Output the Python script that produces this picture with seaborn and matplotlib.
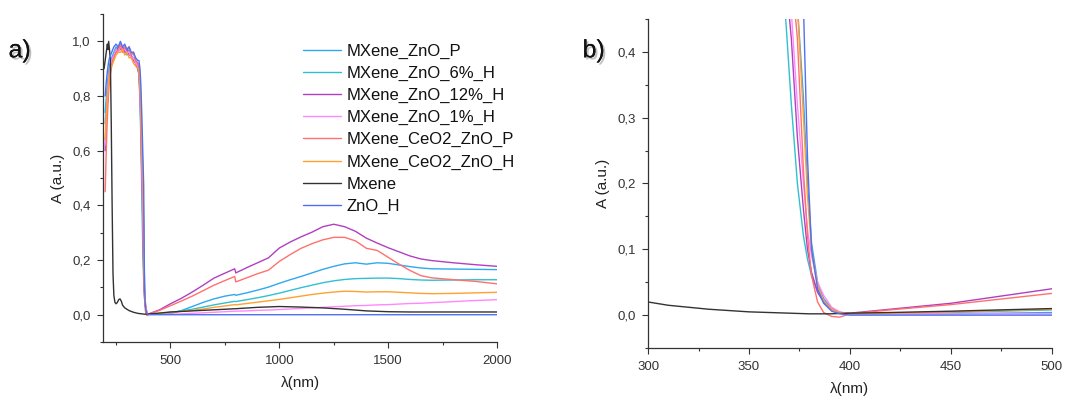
import numpy as np
import pandas as pd
import matplotlib
matplotlib.use("Agg")
import matplotlib.pyplot as plt
import matplotlib.patheffects as pe
from matplotlib.ticker import MultipleLocator, FuncFormatter
import seaborn as sns

# sample names and colours (legend order)
samples = ["MXene_ZnO_P", "MXene_ZnO_6%_H", "MXene_ZnO_12%_H", "MXene_ZnO_1%_H",
           "MXene_CeO2_ZnO_P", "MXene_CeO2_ZnO_H", "Mxene", "ZnO_H"]
colors = ["#2FA8F0", "#30C0D0", "#B040C0", "#FF88FF",
          "#FF7070", "#FFA030", "#333333", "#5070F0"]

# wavelength grid for the ZnO based samples: UV plateau, band edge, visible/NIR
wl_top = [200, 205, 210, 215, 220, 230, 240, 250, 260, 270, 280, 290, 300, 310, 320, 330, 340, 350]
wl_edge = [355, 360, 364, 368, 371, 374, 377, 379, 381, 384, 387, 391, 395, 400]
wl_nir = [420, 450, 500, 550, 600, 650, 700, 750, 795, 800, 850, 900, 950, 1000, 1050, 1100,
          1150, 1200, 1250, 1300, 1350, 1400, 1450, 1500, 1550, 1600, 1650, 1700, 1800, 1900, 2000]
wl_semi = wl_top + wl_edge + wl_nir

A_zno_p = [0.74, 0.79, 0.84, 0.88, 0.91, 0.94, 0.96, 0.98, 0.97, 0.99, 0.97, 0.98, 0.96, 0.97, 0.95, 0.96, 0.93, 0.92,
           0.90, 0.86, 0.78, 0.66, 0.58, 0.47, 0.33, 0.20, 0.11, 0.05, 0.025, 0.01, 0.004, 0.002,
           0.002, 0.002, 0.004, 0.015, 0.030, 0.045, 0.058, 0.068, 0.074, 0.071, 0.080, 0.090, 0.101, 0.115, 0.128, 0.140,
           0.153, 0.166, 0.177, 0.186, 0.190, 0.185, 0.190, 0.188, 0.182, 0.176, 0.171, 0.168, 0.167, 0.166, 0.165]
A_zno_6 = [0.70, 0.76, 0.82, 0.86, 0.90, 0.93, 0.95, 0.97, 0.96, 0.98, 0.96, 0.97, 0.95, 0.96, 0.94, 0.94, 0.92, 0.90,
           0.88, 0.78, 0.64, 0.46, 0.32, 0.20, 0.12, 0.085, 0.06, 0.035, 0.02, 0.009, 0.004, 0.002,
           0.003, 0.004, 0.008, 0.014, 0.020, 0.028, 0.036, 0.043, 0.049, 0.048, 0.055, 0.062, 0.070, 0.079, 0.089, 0.099,
           0.108, 0.117, 0.124, 0.129, 0.132, 0.133, 0.134, 0.134, 0.132, 0.129, 0.127, 0.126, 0.127, 0.128, 0.128]
A_zno_12 = [0.60, 0.70, 0.78, 0.84, 0.88, 0.92, 0.95, 0.96, 0.98, 0.97, 0.98, 0.96, 0.97, 0.95, 0.95, 0.93, 0.92, 0.90,
            0.88, 0.80, 0.68, 0.52, 0.42, 0.27, 0.16, 0.10, 0.065, 0.035, 0.02, 0.009, 0.004, 0.003,
            0.009, 0.018, 0.040, 0.060, 0.083, 0.108, 0.134, 0.152, 0.168, 0.153, 0.172, 0.190, 0.208, 0.244, 0.266, 0.285,
            0.302, 0.322, 0.331, 0.322, 0.305, 0.280, 0.262, 0.245, 0.230, 0.215, 0.204, 0.198, 0.190, 0.183, 0.177]
A_zno_1 = [0.62, 0.72, 0.80, 0.85, 0.89, 0.93, 0.95, 0.97, 0.96, 0.98, 0.97, 0.97, 0.96, 0.96, 0.94, 0.94, 0.92, 0.91,
           0.90, 0.82, 0.72, 0.56, 0.46, 0.32, 0.20, 0.13, 0.09, 0.05, 0.03, 0.012, 0.005, 0.002,
           0.002, 0.002, 0.002, 0.003, 0.005, 0.007, 0.009, 0.011, 0.013, 0.013, 0.014, 0.016, 0.017, 0.019, 0.021, 0.023,
           0.025, 0.027, 0.029, 0.031, 0.033, 0.034, 0.036, 0.037, 0.039, 0.041, 0.042, 0.044, 0.048, 0.052, 0.055]
A_ceo2_p = [0.45, 0.60, 0.72, 0.80, 0.86, 0.91, 0.94, 0.96, 0.97, 0.99, 0.96, 0.98, 0.97, 0.98, 0.95, 0.96, 0.93, 0.92,
            0.90, 0.84, 0.74, 0.60, 0.52, 0.42, 0.22, 0.12, 0.06, 0.02, 0.004, -0.002, -0.003, 0.002,
            0.008, 0.016, 0.033, 0.050, 0.068, 0.088, 0.108, 0.125, 0.140, 0.120, 0.135, 0.150, 0.163, 0.195, 0.220, 0.243,
            0.260, 0.274, 0.283, 0.283, 0.270, 0.243, 0.235, 0.210, 0.185, 0.162, 0.143, 0.135, 0.128, 0.122, 0.113]
A_ceo2_h = [0.64, 0.72, 0.79, 0.84, 0.88, 0.91, 0.93, 0.95, 0.96, 0.96, 0.97, 0.95, 0.96, 0.94, 0.94, 0.92, 0.91, 0.90,
            0.90, 0.85, 0.76, 0.63, 0.55, 0.47, 0.30, 0.18, 0.10, 0.045, 0.022, 0.009, 0.004, 0.002,
            0.003, 0.005, 0.009, 0.012, 0.016, 0.021, 0.027, 0.032, 0.037, 0.036, 0.041, 0.046, 0.051, 0.056, 0.062, 0.068,
            0.074, 0.079, 0.083, 0.086, 0.085, 0.083, 0.084, 0.084, 0.082, 0.080, 0.078, 0.077, 0.078, 0.080, 0.082]
A_zno_h = [0.80, 0.85, 0.89, 0.92, 0.94, 0.96, 0.98, 0.99, 0.98, 1.00, 0.98, 0.99, 0.97, 0.98, 0.96, 0.96, 0.94, 0.93,
           0.93, 0.90, 0.84, 0.74, 0.65, 0.56, 0.47, 0.24, 0.10, 0.04, 0.018, 0.006, 0.002, 0.0,
           0.0, 0.0, 0.0, 0.0, 0.0, 0.0, 0.0, 0.0, 0.0, 0.0, 0.0, 0.0, 0.0, 0.0, 0.0, 0.0,
           0.0, 0.0, 0.0, 0.0, 0.0, 0.0, 0.0, 0.0, 0.0, 0.0, 0.0, 0.0, 0.0, 0.0, 0.0]

# pure MXene has its own grid
wl_mxene = [195, 200, 205, 210, 213, 216, 220, 224, 228, 232, 236, 240, 245, 250, 256, 262, 268, 274, 280, 290,
            300, 310, 320, 330, 340, 350, 360, 370, 380, 390, 400, 420, 450, 500, 600, 700, 800, 900, 1000,
            1100, 1200, 1300, 1400, 1500, 1600, 1700, 1800, 1900, 2000]
A_mxene = [0.90, 0.93, 0.96, 0.99, 0.97, 1.00, 0.97, 0.93, 0.70, 0.40, 0.15, 0.07, 0.045, 0.040, 0.045, 0.055, 0.058,
           0.050, 0.035, 0.025, 0.020, 0.015, 0.012, 0.009, 0.007, 0.005, 0.004, 0.003, 0.002, 0.002, 0.003, 0.004,
           0.006, 0.010, 0.014, 0.018, 0.022, 0.027, 0.030, 0.028, 0.025, 0.020, 0.014, 0.011, 0.010, 0.010, 0.010,
           0.010, 0.010]

series = {
    "MXene_ZnO_P": (wl_semi, A_zno_p),
    "MXene_ZnO_6%_H": (wl_semi, A_zno_6),
    "MXene_ZnO_12%_H": (wl_semi, A_zno_12),
    "MXene_ZnO_1%_H": (wl_semi, A_zno_1),
    "MXene_CeO2_ZnO_P": (wl_semi, A_ceo2_p),
    "MXene_CeO2_ZnO_H": (wl_semi, A_ceo2_h),
    "Mxene": (wl_mxene, A_mxene),
    "ZnO_H": (wl_semi, A_zno_h),
}

frames = []
for name in samples:
    wl, a = series[name]
    frames.append(pd.DataFrame({"wl": wl, "A": a, "sample": name}))
df = pd.concat(frames, ignore_index=True)

sns.set_style("ticks")
plt.rcParams["font.family"] = ["Liberation Sans", "DejaVu Sans"]

fig = plt.figure(figsize=(10.65, 4.01), dpi=100)
ax1 = fig.add_axes([0.0967, 0.147, 0.370, 0.818])
ax2 = fig.add_axes([0.6085, 0.132, 0.379, 0.821])

comma = FuncFormatter(lambda v, p: f"{v:.1f}".replace(".", ","))

for ax in (ax1, ax2):
    sns.lineplot(data=df, x="wl", y="A", hue="sample", hue_order=samples, palette=colors,
                 estimator=None, sort=False, linewidth=1.0, ax=ax, legend=(ax is ax1))
    sns.despine(ax=ax)
    ax.set_xlabel("λ(nm)", fontsize=11, color="#222222", labelpad=7)
    ax.set_ylabel("A (a.u.)", fontsize=11, color="#222222", labelpad=5)
    ax.yaxis.set_major_formatter(comma)
    ax.tick_params(axis="both", which="major", direction="out", length=4, width=0.8, pad=5,
                   labelsize=9.5, labelcolor="#333333", color="#333333")
    ax.tick_params(axis="both", which="minor", direction="out", length=2.5, width=0.8, color="#333333")
    for s in ("left", "bottom"):
        ax.spines[s].set_color("#333333")
        ax.spines[s].set_linewidth(0.9)

ax1.set_xlim(190, 2000)
ax1.set_ylim(-0.1, 1.1)
ax1.xaxis.set_major_locator(MultipleLocator(500))
ax1.xaxis.set_minor_locator(MultipleLocator(250))
ax1.yaxis.set_major_locator(MultipleLocator(0.2))
ax1.yaxis.set_minor_locator(MultipleLocator(0.1))
ax1.set_yticks([0.0, 0.2, 0.4, 0.6, 0.8, 1.0])

ax2.set_xlim(300, 500)
ax2.set_ylim(-0.05, 0.45)
ax2.xaxis.set_major_locator(MultipleLocator(50))
ax2.xaxis.set_minor_locator(MultipleLocator(25))
ax2.yaxis.set_major_locator(MultipleLocator(0.1))
ax2.yaxis.set_minor_locator(MultipleLocator(0.05))
ax2.set_yticks([0.0, 0.1, 0.2, 0.3, 0.4])

leg = ax1.legend(loc="upper left", bbox_to_anchor=(0.49, 0.93), frameon=False, fontsize=12,
                 handlelength=2.3, handletextpad=0.35, labelspacing=0.42, borderaxespad=0)
for line in leg.get_lines():
    line.set_linewidth(1.0)
for t in leg.get_texts():
    t.set_color("#111111")

shadow = [pe.withSimplePatchShadow(offset=(1.5, -1.5), shadow_rgbFace="#999999", alpha=0.6), pe.Normal()]
fig.text(0.008, 0.857, "a)", fontsize=18, color="#111111", path_effects=shadow)
fig.text(0.547, 0.857, "b)", fontsize=18, color="#111111", path_effects=shadow)

fig.savefig("out.png", dpi=100)
